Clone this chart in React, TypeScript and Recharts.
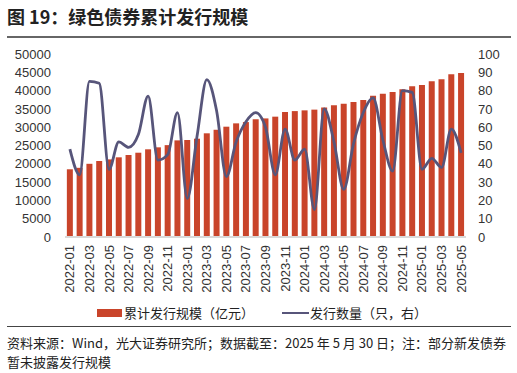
import { Bar, ComposedChart, Line, XAxis, YAxis } from "recharts";

const months = [
  "2022-01", "2022-02", "2022-03", "2022-04", "2022-05", "2022-06", "2022-07", "2022-08", "2022-09", "2022-10", "2022-11", "2022-12",
  "2023-01", "2023-02", "2023-03", "2023-04", "2023-05", "2023-06", "2023-07", "2023-08", "2023-09", "2023-10", "2023-11", "2023-12",
  "2024-01", "2024-02", "2024-03", "2024-04", "2024-05", "2024-06", "2024-07", "2024-08", "2024-09", "2024-10", "2024-11", "2024-12",
  "2025-01", "2025-02", "2025-03", "2025-04", "2025-05",
];

// 累计发行规模（亿元）
const cumulative = [
  18500, 18900, 20000, 20760, 21200, 21770, 22400, 23030, 23960, 24500, 25100, 26400,
  26500, 26860, 28330, 29300, 30140, 31050, 31400, 32150, 32400, 32880, 34150, 34400,
  34600, 34800, 35400, 35980, 36430, 36890, 37430, 38610, 39160, 39620, 40350, 41170,
  41530, 42540, 43080, 44450, 44800,
];

// 发行数量（只，右）
const counts = [
  48, 34, 85, 84, 37, 52, 49, 56, 77, 42, 45, 68,
  21, 55, 86, 69, 33, 52, 63, 68, 60, 34, 59, 42,
  48, 15, 70, 52, 26, 51, 68, 76, 53, 36, 80, 79,
  37, 43, 38, 59, 46,
];

const leftTicks = [0, 5000, 10000, 15000, 20000, 25000, 30000, 35000, 40000, 45000, 50000];
const rightTicks = [0, 10, 20, 30, 40, 50, 60, 70, 80, 90, 100];

const data = months.map((m, i) => ({ month: m, total: cumulative[i], count: counts[i] }));

const BAR = "#C9442A";
const LINE = "#57557A";
const TICK = { fontSize: 13, fill: "#333", fontFamily: "'Liberation Sans', Arial, sans-serif" };
const CJK = "'Noto Sans CJK SC', 'Liberation Sans', sans-serif";

function MonthTick({ x, y, payload }: any) {
  return (
    <text
      x={x}
      y={y}
      transform={`rotate(-90 ${x} ${y})`}
      textAnchor="end"
      dominantBaseline="central"
      fontSize={13}
      fill="#333"
      fontFamily="'Liberation Sans', Arial, sans-serif"
    >
      {payload.value}
    </text>
  );
}

export default function App() {
  return (
    <div
      style={{
        position: "absolute",
        left: 0,
        top: 0,
        width: 517,
        height: 373,
        background: "#fff",
        fontFamily: CJK,
        color: "#222",
      }}
    >
      <div style={{ position: "absolute", left: 7, top: 3, fontSize: 18, fontWeight: 700, lineHeight: "26px" }}>
        图 19：绿色债券累计发行规模
      </div>
      <div style={{ position: "absolute", left: 7, top: 36, width: 504, height: 2, background: "#666" }} />

      <div style={{ position: "absolute", left: 0, top: 0 }}>
        <ComposedChart width={517} height={300} data={data} margin={{ top: 54, right: 0, bottom: 0, left: 0 }} barCategoryGap="19%">
          <XAxis
            dataKey="month"
            interval={1}
            tick={<MonthTick />}
            tickLine={false}
            tickSize={0}
            tickMargin={8}
            axisLine={{ stroke: "#D9D9D9", strokeWidth: 2 }}
            height={63}
          />
          <YAxis
            yAxisId="left"
            domain={[0, 50000]}
            ticks={leftTicks}
            width={65}
            axisLine={false}
            tickLine={false}
            tickSize={0}
            tickMargin={14}
            tick={TICK}
            interval={0}
          />
          <YAxis
            yAxisId="right"
            orientation="right"
            domain={[0, 100]}
            ticks={rightTicks}
            width={51}
            axisLine={false}
            tickLine={false}
            tickSize={0}
            tickMargin={12}
            tick={{ ...TICK, textAnchor: "start" }}
            interval={0}
          />
          <Bar yAxisId="left" dataKey="total" fill={BAR} isAnimationActive={false} />
          <Line
            yAxisId="right"
            dataKey="count"
            type="monotone"
            stroke={LINE}
            strokeWidth={2.8}
            dot={false}
            isAnimationActive={false}
          />
        </ComposedChart>
      </div>

      <div style={{ position: "absolute", left: 97, top: 304, fontSize: 13, lineHeight: "18px", display: "flex", alignItems: "center" }}>
        <span style={{ display: "inline-block", width: 25, height: 8, background: BAR, marginRight: 2 }} />
        <span>累计发行规模（亿元）</span>
        <span style={{ display: "inline-block", width: 27, height: 2, background: LINE, marginLeft: 28, marginRight: 1 }} />
        <span>发行数量（只，右）</span>
      </div>

      <div style={{ position: "absolute", left: 7, top: 326, width: 504, height: 1, background: "#444" }} />
      <div style={{ position: "absolute", left: 7, top: 333, width: 510, fontSize: 13, lineHeight: "19px" }}>
        资料来源：Wind，光大证券研究所；数据截至：2025 年 5 月 30 日；注：部分新发债券
        <br />
        暂未披露发行规模
      </div>
    </div>
  );
}
